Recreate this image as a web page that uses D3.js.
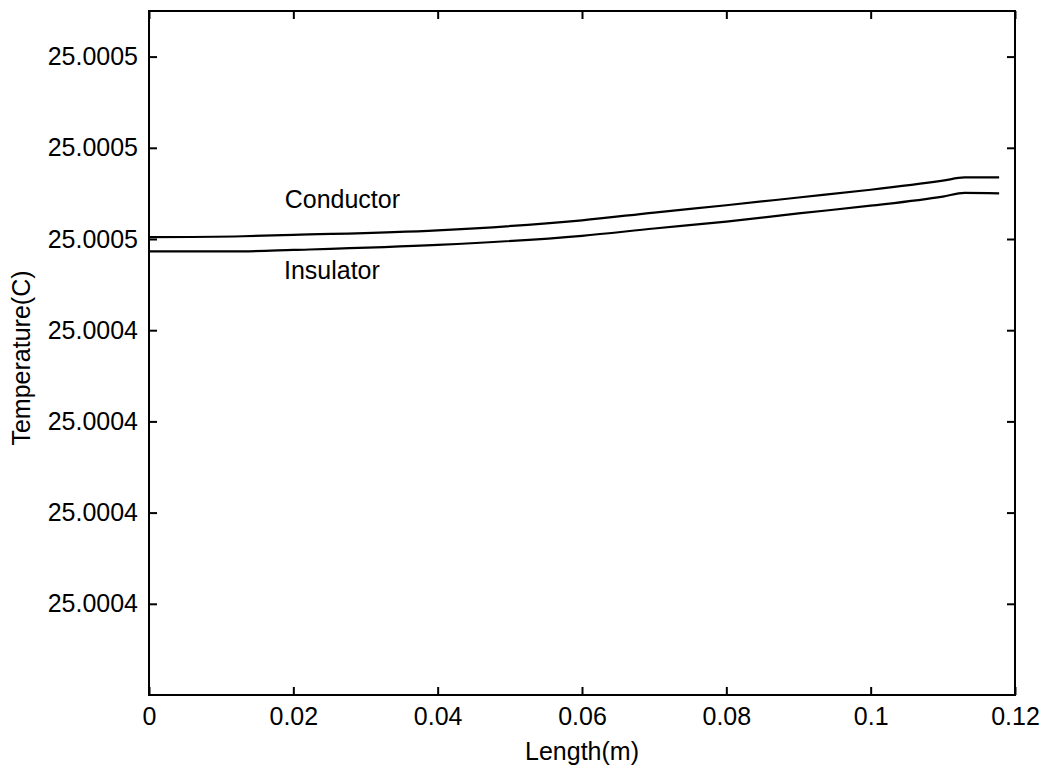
<!DOCTYPE html>
<html>
<head>
<meta charset="utf-8">
<script src="https://cdn.jsdelivr.net/npm/d3@7"></script>
<style>
  body { margin: 0; background: #fff; }
  svg { display: block; font-family: "Liberation Sans", Arial, Helvetica, sans-serif; }
</style>
</head>
<body>
<div id="chart"></div>
<script>
const width = 1045;
const height = 769;
const margin = {top: 11, right: 30, bottom: 74, left: 149};

// values
const lengths = [0, 0.013, 0.02, 0.04, 0.06, 0.07, 0.08, 0.09, 0.1, 0.11, 0.113, 0.1178];
const conductor = [25.0004604, 25.0004606, 25.0004609, 25.0004619, 25.0004641, 25.0004658,
                   25.0004674, 25.0004691, 25.0004708, 25.0004728, 25.0004735, 25.0004735];
const insulator = [25.0004573, 25.0004573, 25.0004576, 25.0004587, 25.0004607, 25.0004623,
                   25.0004638, 25.0004656, 25.0004673, 25.0004693, 25.0004701, 25.0004700];

const xTicks = [0, 0.02, 0.04, 0.06, 0.08, 0.1, 0.12];
const yTicks = [25.00038, 25.0004, 25.00042, 25.00044, 25.00046, 25.00048, 25.0005];

const seriesLabels = [
  {name: 'Conductor', x: 0.0188, y: 25.0004669},
  {name: 'Insulator', x: 0.0187, y: 25.0004513},
];

const svg = d3.select('#chart').append('svg')
    .attr('width', width)
    .attr('height', height);

const x = d3.scaleLinear()
    .domain([0, 0.12])
    .range([margin.left, width - margin.right]);

const y = d3.scaleLinear()
    .domain([25.00036, 25.00051])
    .range([height - margin.bottom, margin.top]);

const tickLen = 8;
const fontSize = 25;

// bottom axis
svg.append('g')
    .attr('transform', `translate(0,${height - margin.bottom})`)
    .call(d3.axisBottom(x).tickValues(xTicks).tickFormat(d3.format('')).tickSizeInner(-tickLen).tickSizeOuter(0).tickPadding(12))
    .call(g => g.select('.domain').remove());

// top axis (ticks only)
svg.append('g')
    .attr('transform', `translate(0,${margin.top})`)
    .call(d3.axisTop(x).tickValues(xTicks).tickFormat('').tickSizeInner(-tickLen).tickSizeOuter(0))
    .call(g => g.select('.domain').remove());

// left axis
svg.append('g')
    .attr('transform', `translate(${margin.left},0)`)
    .call(d3.axisLeft(y).tickValues(yTicks).tickFormat(d3.format('.4f')).tickSizeInner(-tickLen).tickSizeOuter(0).tickPadding(11))
    .call(g => g.select('.domain').remove());

// right axis (ticks only)
svg.append('g')
    .attr('transform', `translate(${width - margin.right},0)`)
    .call(d3.axisRight(y).tickValues(yTicks).tickFormat('').tickSizeInner(-tickLen).tickSizeOuter(0))
    .call(g => g.select('.domain').remove());

svg.selectAll('.tick line')
    .attr('stroke', '#000')
    .attr('stroke-width', 2);

svg.selectAll('.tick text')
    .attr('fill', '#000')
    .style('font-size', fontSize + 'px')
    .style('font-family', '"Liberation Sans", Arial, sans-serif');

// frame
svg.append('rect')
    .attr('x', margin.left)
    .attr('y', margin.top)
    .attr('width', width - margin.left - margin.right)
    .attr('height', height - margin.top - margin.bottom)
    .attr('fill', 'none')
    .attr('stroke', '#000')
    .attr('stroke-width', 2);

const line = d3.line()
    .x(d => x(d[0]))
    .y(d => y(d[1]))
    .curve(d3.curveMonotoneX);

[conductor, insulator].forEach(vals => {
    svg.append('path')
        .datum(lengths.map((l, i) => [l, vals[i]]))
        .attr('fill', 'none')
        .attr('stroke', '#000')
        .attr('stroke-width', 2.2)
        .attr('d', line);
});

svg.selectAll('.series-label')
    .data(seriesLabels)
    .join('text')
    .attr('class', 'series-label')
    .attr('x', d => x(d.x))
    .attr('y', d => y(d.y))
    .attr('font-size', fontSize)
    .attr('fill', '#000')
    .text(d => d.name);

// axis titles
svg.append('text')
    .attr('x', (margin.left + width - margin.right) / 2)
    .attr('y', 760)
    .attr('text-anchor', 'middle')
    .attr('font-size', fontSize)
    .text('Length(m)');

svg.append('text')
    .attr('transform', `translate(30,358) rotate(-90)`)
    .attr('text-anchor', 'middle')
    .attr('font-size', fontSize)
    .text('Temperature(C)');
</script>
</body>
</html>
